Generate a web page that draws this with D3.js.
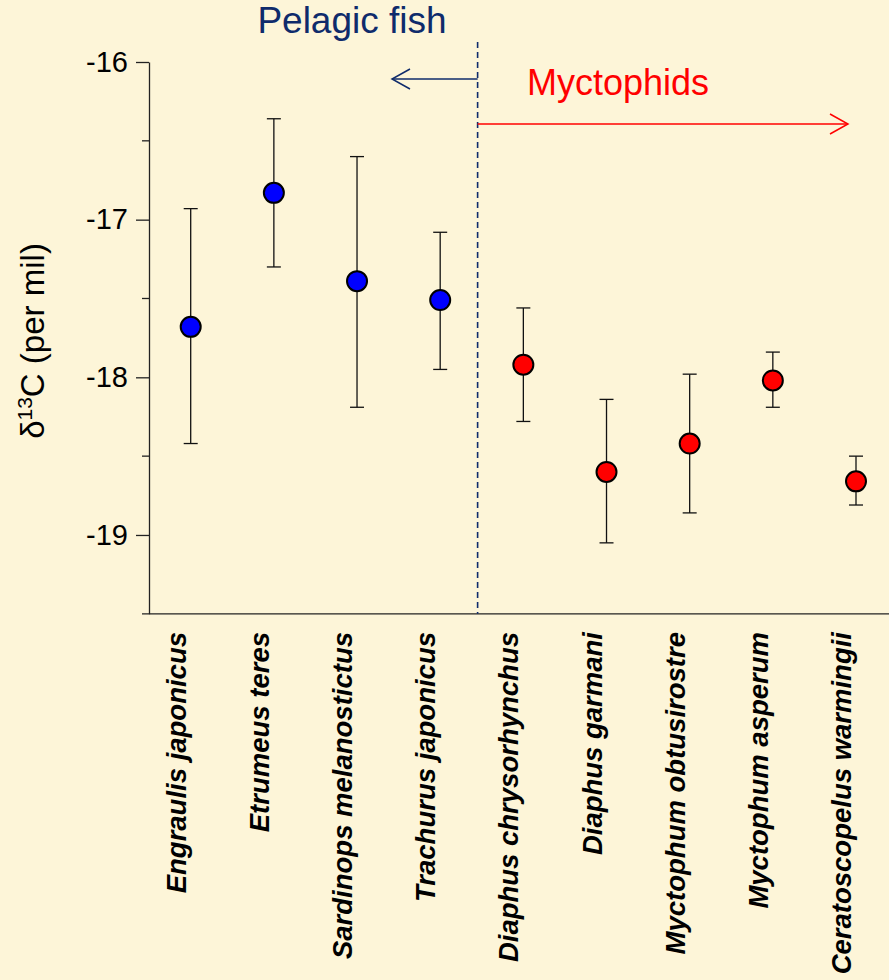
<!DOCTYPE html>
<html>
<head>
<meta charset="utf-8">
<script src="https://cdn.jsdelivr.net/npm/d3@7"></script>
<style>
  html, body { margin: 0; padding: 0; background: #fdf5d8; }
  svg { display: block; font-family: Arial, "Liberation Sans", sans-serif; }
</style>
</head>
<body>
<div id="chart"></div>
<script>
// Data

var species = ["Engraulis japonicus", "Etrumeus teres", "Sardinops melanostictus",
  "Trachurus japonicus", "Diaphus chrysorhynchus", "Diaphus garmani",
  "Myctophum obtusirostre", "Myctophum asperum", "Ceratoscopelus warmingii"];
var groups = ["pelagic", "pelagic", "pelagic", "pelagic",
  "myctophid", "myctophid", "myctophid", "myctophid", "myctophid"];
var means = [-17.68, -16.83, -17.39, -17.51, -17.92, -18.60, -18.42, -18.02, -18.66];
var upper = [-16.93, -16.36, -16.60, -17.08, -17.56, -18.14, -17.98, -17.84, -18.50];
var lower = [-18.42, -17.30, -18.19, -17.95, -18.28, -19.05, -18.86, -18.19, -18.81];
var majorTicks = [-16, -17, -18, -19];
var minorTicks = [-16.5, -17.5, -18.5];

var W = 889, H = 980;
var bg = "#fdf5d8", navy = "#0f2b6b";

var svg = d3.select("#chart").append("svg")
  .attr("width", W).attr("height", H);

svg.append("rect").attr("width", W).attr("height", H).attr("fill", bg);

var x = d3.scalePoint().domain(species).range([190.7, 856]);
var y = d3.scaleLinear().domain([-19.5, -16]).range([613.8, 62]);
var axisX = 149;

// y axis
var yAxis = svg.append("g")
  .attr("transform", "translate(" + axisX + ",0)")
  .call(d3.axisLeft(y).tickValues(majorTicks).tickSize(13).tickSizeOuter(0)
    .tickPadding(8).tickFormat(function(d){ return String(d); }));
yAxis.select(".domain").attr("stroke", "#222").attr("stroke-width", 1.3);
yAxis.selectAll(".tick line").attr("stroke", "#222").attr("stroke-width", 1.3);
yAxis.selectAll(".tick text").attr("font-size", 29).attr("fill", "#000")
  .attr("font-family", "Arial, 'Liberation Sans', sans-serif");

svg.append("g").selectAll("line").data(minorTicks).enter().append("line")
  .attr("x1", axisX - 7).attr("x2", axisX)
  .attr("y1", function(d){ return y(d); }).attr("y2", function(d){ return y(d); })
  .attr("stroke", "#222").attr("stroke-width", 1.3);

// x axis line
svg.append("line")
  .attr("x1", axisX - 7).attr("x2", W)
  .attr("y1", y(-19.5)).attr("y2", y(-19.5))
  .attr("stroke", "#222").attr("stroke-width", 1.3);

// y label
var yl = svg.append("text")
  .attr("transform", "translate(44," + 341 + ")rotate(-90)")
  .attr("text-anchor", "middle").attr("font-size", 33).attr("fill", "#000");
yl.append("tspan").text("\u03b4");
yl.append("tspan").attr("font-size", 21).attr("dy", -12).text("13");
yl.append("tspan").attr("dy", 12).text("C (per mil)");

// divider
var divX = x(species[3]) + 0.45 * x.step();
svg.append("line")
  .attr("x1", divX).attr("x2", divX).attr("y1", 42).attr("y2", y(-19.5))
  .attr("stroke", navy).attr("stroke-width", 1.6).attr("stroke-dasharray", "6,4");

// group labels and arrows
svg.append("text").attr("x", 352).attr("y", 33).attr("text-anchor", "middle")
  .attr("font-size", 37).attr("fill", navy).text("Pelagic fish");
svg.append("text").attr("x", 618).attr("y", 95).attr("text-anchor", "middle")
  .attr("font-size", 36).attr("fill", "#ff0000").text("Myctophids");

function arrow(x0, x1, yy, col) {
  var dir = x1 > x0 ? 1 : -1;
  svg.append("line").attr("x1", x0).attr("x2", x1).attr("y1", yy).attr("y2", yy)
    .attr("stroke", col).attr("stroke-width", 1.5);
  svg.append("path")
    .attr("d", "M" + (x1 - dir * 18) + "," + (yy - 10) + "L" + x1 + "," + yy + "L" + (x1 - dir * 18) + "," + (yy + 10))
    .attr("fill", "none").attr("stroke", col).attr("stroke-width", 1.5);
}
arrow(divX, 392, 79, navy);
arrow(divX, 848, 124, "#ff0000");

// error bars
var idx = d3.range(species.length);
var eb = svg.append("g").selectAll("g").data(idx).enter().append("g");
eb.append("line")
  .attr("x1", function(i){ return x(species[i]); }).attr("x2", function(i){ return x(species[i]); })
  .attr("y1", function(i){ return y(upper[i]); }).attr("y2", function(i){ return y(lower[i]); })
  .attr("stroke", "#111").attr("stroke-width", 1.3);
eb.append("line")
  .attr("x1", function(i){ return x(species[i]) - 7; }).attr("x2", function(i){ return x(species[i]) + 7; })
  .attr("y1", function(i){ return y(upper[i]); }).attr("y2", function(i){ return y(upper[i]); })
  .attr("stroke", "#111").attr("stroke-width", 1.3);
eb.append("line")
  .attr("x1", function(i){ return x(species[i]) - 7; }).attr("x2", function(i){ return x(species[i]) + 7; })
  .attr("y1", function(i){ return y(lower[i]); }).attr("y2", function(i){ return y(lower[i]); })
  .attr("stroke", "#111").attr("stroke-width", 1.3);

// points
svg.append("g").selectAll("circle").data(idx).enter().append("circle")
  .attr("cx", function(i){ return x(species[i]); })
  .attr("cy", function(i){ return y(means[i]); })
  .attr("r", 10)
  .attr("fill", function(i){ return groups[i] == "pelagic" ? "#0000ff" : "#ff0000"; })
  .attr("stroke", "#000").attr("stroke-width", 2);

// species labels
svg.append("g").selectAll("text").data(species).enter().append("text")
  .attr("transform", function(d){ return "translate(" + (x(d) - 5) + ",632)rotate(-90)"; })
  .attr("text-anchor", "end")
  .attr("font-size", 27.5).attr("font-weight", "bold").attr("font-style", "italic")
  .attr("fill", "#000")
  .text(function(d){ return d; });
</script>
</body>
</html>
